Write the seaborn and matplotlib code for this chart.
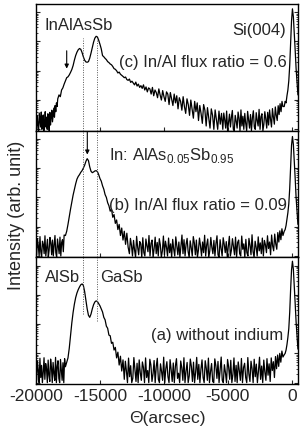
import numpy as np
import pandas as pd
import matplotlib
matplotlib.use("Agg")
import matplotlib.pyplot as plt
from matplotlib.ticker import LogLocator, NullFormatter
import seaborn as sns

# ---------------- data ----------------
# Panel (c) In/Al flux ratio = 0.6
c_left_range = (-19950, -18350)
c_left = [1.3, 2.9, 1.1, 0.9, 3.6, 2.0, 1.2, 3.9, 1.0, 2.4, 3.1, 0.9, 1.6, 4.0, 1.2, 2.6,
          1.0, 3.4, 2.1, 0.9, 3.8, 1.4, 2.7, 4.5, 1.8, 3.2, 5.3, 2.6, 6.5, 4.0, 8.0, 6.0]
c_peaks_range = (-18300, -14900)
c_peaks = [11, 15, 13, 22, 26, 35, 45, 58, 62, 72, 88, 110, 150, 230, 330, 430, 520, 575,
           540, 420, 300, 230, 200, 195, 205, 270, 400, 620, 950, 1300, 1500, 1420, 1100, 800, 560]
c_tail_range = (-14800, -5500)
c_tail = [330, 300, 265, 240, 205, 190, 170, 160, 140, 118, 112, 100, 84, 90, 76, 70, 64, 58, 61, 50,
          47, 52, 40, 44, 38, 33, 41, 30, 35, 27, 31, 25, 33, 22, 28, 19, 26, 24, 16, 27,
          14, 22, 18, 12, 24, 15, 10, 21, 13, 9, 19, 16, 7, 18, 11, 6.5, 16, 8, 14, 5,
          12, 9, 4.5, 13, 6, 3.5, 11, 7, 3, 10, 5, 2.4, 9, 4, 8, 2, 6.5, 3.5, 1.6, 7,
          4.5, 1.3, 5.5, 2.5, 1.1, 5, 3, 1.0, 4.6, 2.2, 1.0, 4.2, 1.5, 3.5]
c_right_range = (-5400, -700)
c_right = [1.0, 3.6, 2.1, 1.1, 4.2, 0.9, 1.7, 3.3, 1.2, 2.6, 4.4, 1.0, 0.9, 3.0, 1.9, 1.1,
           3.9, 2.4, 0.9, 4.6, 1.3, 2.8, 1.0, 3.5, 1.6, 0.9, 4.1, 2.2, 1.1, 3.2, 0.9, 2.5,
           4.3, 1.2, 1.0, 3.7, 2.0, 1.3, 4.8, 1.0, 2.7, 3.4, 0.9, 1.5, 4.0, 2.3, 1.1, 3.8,
           1.4, 4.6, 2.2, 1.2, 5.1, 2.6, 1.5, 5.8, 3.0, 2.0, 6.4, 3.2, 7.5, 4.0, 9.0, 6.0]
c_si_range = (-600, 470)
c_si = [6, 9, 8, 14, 22, 45, 150, 900, 5000, 13000, 7000, 2000, 500, 120, 40, 15]

# Panel (b) In/Al flux ratio = 0.09
b_left_range = (-19950, -17800)
b_left = [1.1, 3.9, 2.2, 1.0, 4.6, 1.4, 0.9, 3.2, 2.5, 1.2, 4.9, 1.0, 2.0, 3.7, 0.9, 1.6, 4.3,
          2.8, 1.1, 3.5, 1.0, 2.4, 5.0, 1.3, 0.9, 3.8, 2.1, 1.2, 4.4, 1.0, 2.9, 3.6, 1.4, 5.2]
b_peaks_range = (-17700, -12800)
b_peaks = [5, 7, 12, 22, 40, 70, 120, 190, 290, 420, 520, 600, 720, 820, 1000, 1250, 1700,
           2100, 1800, 1100, 780, 700, 740, 800, 820, 760, 600, 440, 360, 250, 190, 125, 100,
           66, 52, 34, 40, 21, 26, 13, 17, 8, 12, 5, 9, 3.5, 7, 2.5, 6, 2.0]
b_right_range = (-12700, -700)
b_right = [1.2, 4.0, 2.3, 1.0, 3.4, 1.6, 0.9, 4.7, 2.0, 1.1, 3.1, 2.6, 0.9, 4.2, 1.3,
           1.0, 3.8, 2.2, 1.4, 5.0, 1.0, 2.7, 3.5, 0.9, 1.8, 4.4, 1.2, 2.9, 1.0, 3.9,
           2.4, 0.9, 1.5, 4.8, 1.1, 3.2, 2.0, 1.0, 4.1, 1.3, 2.6, 0.9, 3.7, 1.7, 1.0,
           4.5, 2.3, 1.1, 3.0, 0.9, 2.1, 5.2, 1.2, 3.6, 1.0, 2.5, 4.0, 1.4, 0.9, 3.3,
           1.9, 1.0, 4.6, 2.8, 1.1, 3.5, 0.9, 1.6, 4.1, 2.2, 1.0, 3.0, 1.3, 5.1, 1.0,
           2.4, 3.8, 0.9, 1.5, 4.3, 2.0, 1.2, 3.4, 1.0, 2.7, 4.9, 1.1, 0.9, 3.6, 1.8,
           1.0, 4.2, 2.5, 1.3, 3.1, 0.9, 2.2, 4.7, 1.0, 1.6, 3.9, 2.1, 1.1, 4.4, 0.9,
           2.9, 3.5, 1.2, 1.0, 4.8, 1.7, 2.6, 0.9, 3.7, 1.3, 1.0, 4.0, 2.3, 1.1, 5.3,
           1.4, 0.9, 3.2, 2.0, 1.0, 4.5, 1.5, 2.8, 1.2, 4.1, 1.0, 3.4, 2.4, 1.3, 4.9,
           1.8, 3.0, 1.1, 5.2, 2.2, 1.5, 5.6, 2.6, 1.7, 6.3, 3.0, 7.2, 3.6, 8.5, 5.0]
b_si_range = (-600, 470)
b_si = [7, 8, 11, 18, 30, 60, 200, 1200, 6000, 12000, 6500, 1800, 450, 100, 35, 12]

# Panel (a) without indium
a_left_range = (-19950, -17700)
a_left = [1.2, 5.4, 2.6, 1.0, 6.8, 1.5, 3.9, 1.0, 2.2, 7.1, 1.3, 4.5, 3.0, 1.0, 5.9, 1.8,
          1.1, 6.4, 3.4, 1.0, 4.9, 2.1, 1.2, 7.3, 1.0, 3.6, 5.6, 1.4, 1.0, 6.2, 2.7, 1.2,
          4.8, 1.0, 6.6, 3.5]
a_peaks_range = (-17600, -13200)
a_peaks = [5, 7, 15, 40, 110, 250, 480, 800, 1150, 1500, 1850, 2200, 2350, 2100, 1300, 650,
           330, 200, 170, 220, 330, 460, 570, 620, 590, 500, 420, 330, 260, 170, 140, 85, 72,
           42, 40, 22, 24, 13, 16, 7, 11, 4, 8, 2.5, 6]
a_right_range = (-13100, -700)
a_right = [1.3, 5.4, 2.5, 1.0, 6.9, 1.6, 3.8, 1.0, 1.4, 7.2, 2.9, 1.1, 4.6, 1.0, 6.0,
           2.2, 1.2, 5.1, 3.3, 1.0, 7.0, 1.5, 2.6, 1.0, 6.3, 4.0, 1.1, 2.0, 5.7, 1.0,
           3.5, 6.8, 1.3, 1.0, 4.4, 2.4, 1.2, 7.4, 1.0, 3.0, 5.2, 1.6, 1.0, 6.1, 2.8,
           1.1, 4.7, 1.0, 3.7, 6.6, 1.4, 2.1, 1.0, 5.5, 3.2, 1.2, 7.1, 1.0, 2.5, 4.9,
           1.0, 1.7, 6.4, 3.6, 1.1, 5.0, 1.0, 2.3, 7.3, 1.3, 4.2, 1.0, 2.9, 6.0, 1.5,
           1.0, 5.6, 3.1, 1.2, 6.9, 1.0, 2.4, 4.5, 1.1, 1.0, 6.5, 3.8, 1.4, 5.3, 1.0,
           2.7, 7.5, 1.2, 1.0, 4.1, 2.2, 1.0, 6.2, 3.4, 1.3, 5.8, 1.0, 1.9, 7.0, 1.1,
           3.9, 1.0, 5.1, 2.6, 1.2, 6.7, 1.0, 3.3, 4.6, 1.5, 1.0, 7.2, 2.0, 1.1, 5.4,
           3.0, 1.0, 6.3, 1.6, 4.3, 1.0, 2.5, 7.4, 1.3, 3.7, 1.0, 5.9, 2.3, 1.2, 6.6,
           1.8, 4.4, 1.1, 7.0, 2.6, 5.2, 1.5, 7.8, 3.0, 8.8, 3.6, 10.0, 5.0, 12.0, 7.5]
a_si_range = (-600, 470)
a_si = [9, 10, 13, 20, 35, 70, 250, 1500, 7000, 14000, 7500, 2000, 500, 120, 40, 14]

x_ticks = [-20000, -15000, -10000, -5000, 0]
x_ticklabels = ["-20000", "-15000", "-10000", "-5000", "0"]
ref_lines = [-16350, -15200]   # AlSb / GaSb reference positions
arrow_c_theta = -17600
arrow_b_theta = -15990


def build(segments):
    th, iv = [], []
    for (lo, hi), vals in segments:
        th.extend(np.linspace(lo, hi, len(vals)))
        iv.extend(vals)
    return pd.DataFrame({"theta": th, "intensity": iv})


df_c = build([(c_left_range, c_left), (c_peaks_range, c_peaks), (c_tail_range, c_tail),
              (c_right_range, c_right), (c_si_range, c_si)])
df_b = build([(b_left_range, b_left), (b_peaks_range, b_peaks),
              (b_right_range, b_right), (b_si_range, b_si)])
df_a = build([(a_left_range, a_left), (a_peaks_range, a_peaks),
              (a_right_range, a_right), (a_si_range, a_si)])

# ---------------- style ----------------
sns.set_style("ticks")
plt.rcParams["font.family"] = ["Liberation Sans", "DejaVu Sans"]
plt.rcParams["mathtext.fontset"] = "custom"
plt.rcParams["mathtext.rm"] = "Liberation Sans"
plt.rcParams["axes.linewidth"] = 1.0

fig = plt.figure(figsize=(3.04, 4.31), dpi=100)
gs = fig.add_gridspec(3, 1, left=0.1184, right=0.980, bottom=0.1067, top=0.9884, hspace=0)
axes = [fig.add_subplot(gs[i]) for i in range(3)]

for ax, df in zip(axes, [df_c, df_b, df_a]):
    sns.lineplot(data=df, x="theta", y="intensity", ax=ax, color="black",
                 linewidth=0.9, estimator=None, sort=False)
    ax.set_yscale("log")
    ax.set_ylim(0.9, 19000)
    ax.set_xlim(-20000, 470)
    ax.set_xticks(x_ticks)
    ax.set_xlabel("")
    ax.set_ylabel("")
    ax.yaxis.set_major_locator(LogLocator(base=10, numticks=12))
    ax.yaxis.set_minor_locator(LogLocator(base=10, subs=np.arange(2, 10), numticks=12))
    ax.yaxis.set_major_formatter(NullFormatter())
    ax.yaxis.set_minor_formatter(NullFormatter())
    ax.tick_params(axis="y", which="major", direction="in", length=3.2, width=0.8,
                   left=True, right=True)
    ax.tick_params(axis="y", which="minor", direction="in", length=1.7, width=0.6,
                   left=True, right=True)
    ax.tick_params(axis="x", which="major", direction="in", length=3, width=0.8)
    for s in ax.spines.values():
        s.set_color("black")

for ax in axes[:2]:
    ax.set_xticklabels([])
axes[2].set_xticklabels(x_ticklabels, fontsize=12.5)
axes[2].tick_params(axis="x", pad=3)

dot = dict(color="#555555", linestyle=(0, (1, 1.5)), linewidth=0.7)
axes[0].axvline(ref_lines[0], ymin=0, ymax=0.73, **dot)
axes[0].axvline(ref_lines[1], ymin=0, ymax=0.73, **dot)
axes[1].axvline(ref_lines[0], **dot)
axes[1].axvline(ref_lines[1], **dot)
axes[2].axvline(ref_lines[0], ymin=0.55, ymax=1, **dot)
axes[2].axvline(ref_lines[1], ymin=0.5, ymax=1, **dot)

fs = 12
axes[0].text(0.034, 0.84, "InAlAsSb", transform=axes[0].transAxes, fontsize=fs,
             ha="left", va="center")
axes[0].text(0.954, 0.80, "Si(004)", transform=axes[0].transAxes, fontsize=fs,
             ha="right", va="center")
axes[0].text(0.958, 0.55, "(c) In/Al flux ratio = 0.6", transform=axes[0].transAxes,
             fontsize=fs, ha="right", va="center")
axes[0].annotate("", xy=(arrow_c_theta, 118), xytext=(arrow_c_theta, 480),
                 arrowprops=dict(arrowstyle="-|>", color="black", lw=0.8,
                                 mutation_scale=6, shrinkA=0, shrinkB=0))

axes[1].text(0.279, 0.815, r"In: AlAs$_\mathregular{0.05}$Sb$_\mathregular{0.95}$",
             transform=axes[1].transAxes, fontsize=fs, ha="left", va="center")
axes[1].text(0.958, 0.42, "(b) In/Al flux ratio = 0.09", transform=axes[1].transAxes,
             fontsize=fs, ha="right", va="center")
axes[1].annotate("", xy=(arrow_b_theta, 2900), xytext=(arrow_b_theta, 17000),
                 arrowprops=dict(arrowstyle="-|>", color="black", lw=0.8,
                                 mutation_scale=6, shrinkA=0, shrinkB=0))

axes[2].text(0.034, 0.85, "AlSb", transform=axes[2].transAxes, fontsize=fs,
             ha="left", va="center")
axes[2].text(0.244, 0.85, "GaSb", transform=axes[2].transAxes, fontsize=fs,
             ha="left", va="center")
axes[2].text(0.943, 0.39, "(a) without indium", transform=axes[2].transAxes,
             fontsize=fs, ha="right", va="center")

fig.text(0.053, 0.50, "Intensity (arb. unit)", rotation=90, fontsize=13,
         ha="center", va="center")
fig.text(0.55, 0.03, "\u0398(arcsec)", fontsize=12.5, ha="center", va="center")

fig.savefig("out.png", dpi=100)
